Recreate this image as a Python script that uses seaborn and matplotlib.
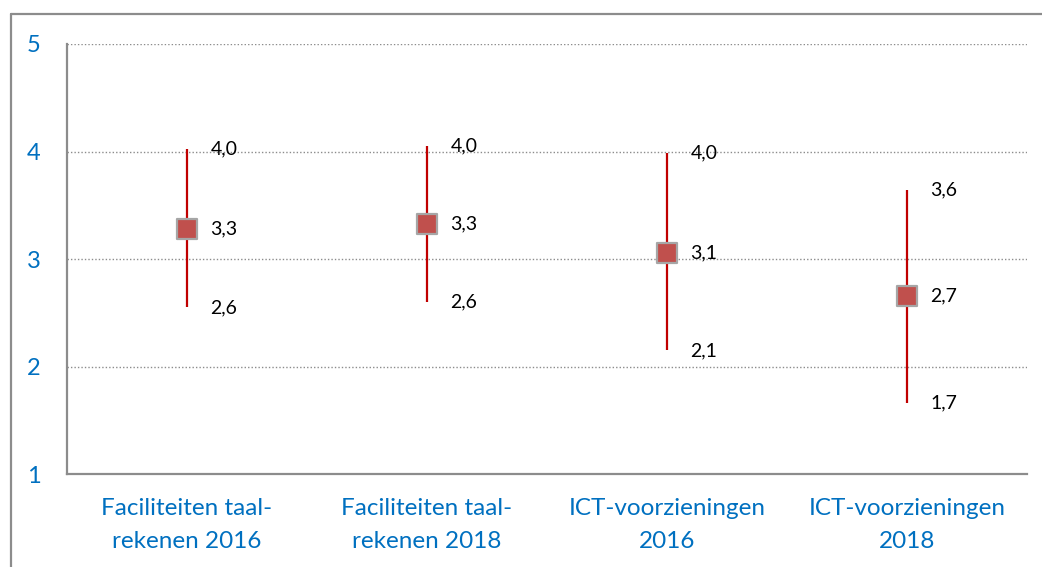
import numpy as np
import pandas as pd
import matplotlib
matplotlib.use('Agg')
import matplotlib.pyplot as plt
from matplotlib.lines import Line2D
import seaborn as sns

categories = ['Faciliteiten taal-\nrekenen 2016', 'Faciliteiten taal-\nrekenen 2018',
              'ICT-voorzieningen\n2016', 'ICT-voorzieningen\n2018']
means = [3.28, 3.33, 3.06, 2.66]
upper = [4.02, 4.05, 3.99, 3.64]
lower = [2.55, 2.60, 2.15, 1.66]
mean_labels = ['3,3', '3,3', '3,1', '2,7']
upper_labels = ['4,0', '4,0', '4,0', '3,6']
lower_labels = ['2,6', '2,6', '2,1', '1,7']
yticks = [1, 2, 3, 4, 5]

df = pd.DataFrame({'cat': categories, 'mean': means, 'hi': upper, 'lo': lower})

sns.set_style('white')
plt.rcParams['font.family'] = ['Lato', 'DejaVu Sans']

fig = plt.figure(figsize=(10.42, 5.67), dpi=100)
ax = fig.add_axes([0.0643, 0.164, 0.9213, 0.7584])

# outer frame (top and left only visible)
fig.add_artist(Line2D([11/1042, 1], [1-14/567, 1-14/567], color='#8c8c8c', lw=1.6))
fig.add_artist(Line2D([11/1042, 11/1042], [0, 1-14/567], color='#8c8c8c', lw=1.6))

pos = np.arange(len(categories))
ax.vlines(pos, df['lo'], df['hi'], color='#c00000', lw=1.6, zorder=2)
sns.scatterplot(x=pos, y=df['mean'], marker='s', s=190, color='#c0504d',
                edgecolor='#a6a6a6', linewidth=1.6, zorder=3, ax=ax, legend=False)

for i in range(len(categories)):
    for val, lab in [(upper[i], upper_labels[i]), (means[i], mean_labels[i]), (lower[i], lower_labels[i])]:
        ax.annotate(lab, (i, val), xytext=(17, 0), textcoords='offset points',
                    ha='left', va='center', fontsize=14, color='black')

ax.set_xlim(-0.5, 3.5)
ax.set_ylim(1, 5)
ax.set_yticks(yticks)
ax.set_xticks(pos)
ax.set_xticklabels(categories)
for y in yticks[1:]:
    ax.axhline(y, color='#8c8c8c', lw=1.0, ls=(0, (1, 1.5)), zorder=1)

ax.tick_params(axis='both', length=0, labelcolor='#0070c0', labelsize=17)
ax.tick_params(axis='x', labelsize=17.5)
ax.tick_params(axis='y', pad=19)
ax.tick_params(axis='x', pad=17)
for lab in ax.get_xticklabels():
    lab.set_linespacing(1.75)

sns.despine(ax=ax, top=True, right=True)
for s in ['left', 'bottom']:
    ax.spines[s].set_color('#8c8c8c')
    ax.spines[s].set_linewidth(1.6)
ax.set_xlabel('')
ax.set_ylabel('')

fig.savefig('out.png', dpi=100)
